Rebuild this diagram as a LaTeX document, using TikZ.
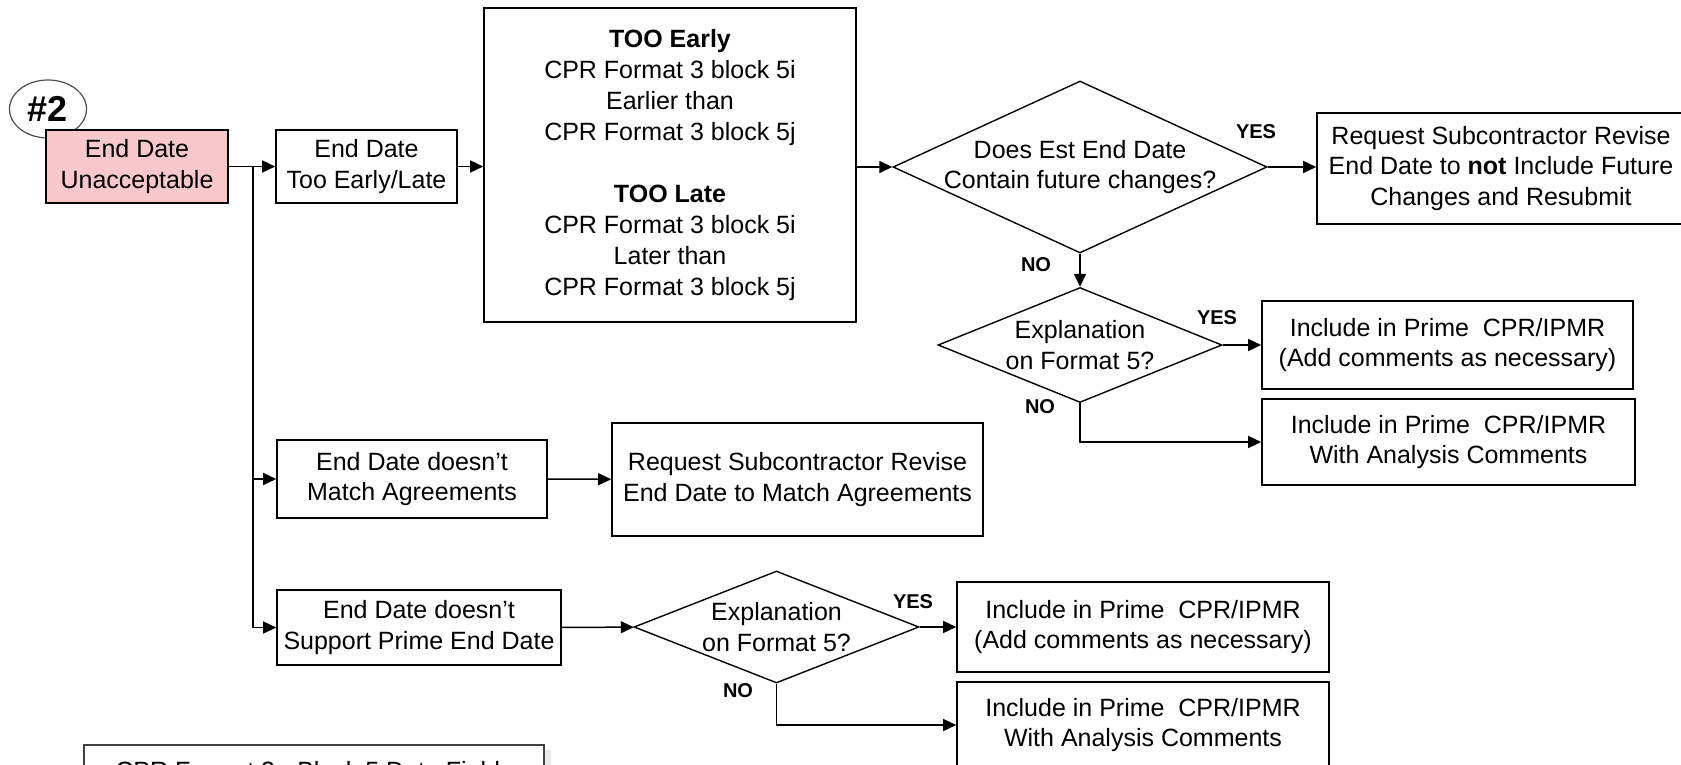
\documentclass[tikz,border=0pt]{standalone}
\usepackage{fontspec}
\setmainfont{Liberation Sans}
\usetikzlibrary{shapes.geometric,arrows.meta,shadows}
\definecolor{pinkfill}{RGB}{249,200,204}
\newcommand\boxfont{\fontsize{25}{30.5}\selectfont}
\newcommand\tagfont{\fontsize{20}{20}\selectfont\bfseries}

\begin{document}
\begin{tikzpicture}[x=1pt, y=-1pt,
  every node/.style={font=\boxfont, inner sep=0pt, align=center},
  box/.style={draw, line width=1.6pt, fill=white},
  decision/.style={diamond, draw, line width=1.4pt, fill=white},
  tag/.style={font=\tagfont},
  link/.style={line width=1.5pt, -{Triangle[length=13pt,width=12pt]}}]
\useasboundingbox (0,0) rectangle (1681,764);
\clip (0,0) rectangle (1681,764);
% left column
\node[ellipse, draw=black!70, line width=1.2pt, fill=white, minimum width=77pt, minimum height=58pt, font=\fontsize{36}{36}\selectfont\bfseries] (num) at (48,109) {\#2};
\node[box, fill=pinkfill, minimum width=182pt, minimum height=73pt] (start) at (137,166.5) {End Date\\Unacceptable};
\node[box, minimum width=181pt, minimum height=73pt] (early) at (366.5,166.5) {End Date\\Too Early/Late};
\node[box, minimum width=372pt, minimum height=314pt, font=\fontsize{25}{31}\selectfont] (range) at (670,165) {\textbf{TOO Early}\\CPR Format 3 block 5i\\Earlier than\\CPR Format 3 block 5j\\[31pt]\textbf{TOO Late}\\CPR Format 3 block 5i\\Later than\\CPR Format 3 block 5j};
\node[box, minimum width=270pt, minimum height=78pt] (match) at (412,479) {End Date doesn't\\Match Agreements};
\node[box, minimum width=371pt, minimum height=113pt] (fixmatch) at (797.5,479.5) {Request Subcontractor Revise\\End Date to Match Agreements};
\node[box, minimum width=284pt, minimum height=75pt] (support) at (419,627.5) {End Date doesn't\\Support Prime End Date};
\node[box, draw=black!75, line width=2pt, drop shadow={opacity=0.18, shadow xshift=7pt, shadow yshift=-5pt}, minimum width=460pt, minimum height=52pt, anchor=north west] (fields) at (83,744) {CPR Format 3 - Block 5 Date Fields};
% decisions and outcomes
\node[decision, minimum width=374pt, minimum height=172pt, label={center:{Does Est End Date\\Contain future changes?}}] (d1) at (1080,167) {};
\node[box, minimum width=368pt, minimum height=111pt] (revise) at (1501,168.5) {Request Subcontractor Revise\\End Date to \textbf{not} Include Future\\Changes and Resubmit};
\node[decision, minimum width=284pt, minimum height=115pt, label={center:{Explanation\\on Format 5?}}] (d2) at (1080,345) {};
\node[box, minimum width=371pt, minimum height=88pt] (okA) at (1447.5,345) {Include in Prime~ CPR/IPMR\\(Add comments as necessary)};
\node[box, minimum width=373pt, minimum height=86pt] (noteA) at (1448.5,442) {Include in Prime~ CPR/IPMR\\With Analysis Comments};
\node[decision, minimum width=285pt, minimum height=112pt, label={center:{Explanation\\on Format 5?}}] (d3) at (776.5,627) {};
\node[box, minimum width=372pt, minimum height=90pt] (okB) at (1143,627) {Include in Prime~ CPR/IPMR\\(Add comments as necessary)};
\node[box, minimum width=372pt, minimum height=86pt] (noteB) at (1143,725) {Include in Prime~ CPR/IPMR\\With Analysis Comments};
% yes / no tags
\node[tag] (yes1) at (1256,132) {YES};
\node[tag] (no1) at (1036,265) {NO};
\node[tag] (yes2) at (1217,318) {YES};
\node[tag] (no2) at (1040,407) {NO};
\node[tag] (yes3) at (913,602) {YES};
\node[tag] (no3) at (738,691) {NO};
% connectors
\coordinate (fork) at (253,166.5);
\draw[link] (start) -- (early);
\draw[link] (fork) |- (match);
\draw[link] (fork) |- (support);
\draw[link] (early.east) -- (early.east -| range.west);
\draw[link] (range.east |- d1) -- (d1);
\draw[link] (d1.east) -- (d1.east -| revise.west);
\draw[link] (d1) -- (d2);
\draw[link] (d2) -- (okA);
\draw[link] (d2.south) |- (noteA);
\draw[link] (match) -- (fixmatch);
\draw[link] (support) -- (d3);
\draw[link] (d3) -- (okB);
\draw[link] (d3.south) |- (noteB);
\end{tikzpicture}
\end{document}
